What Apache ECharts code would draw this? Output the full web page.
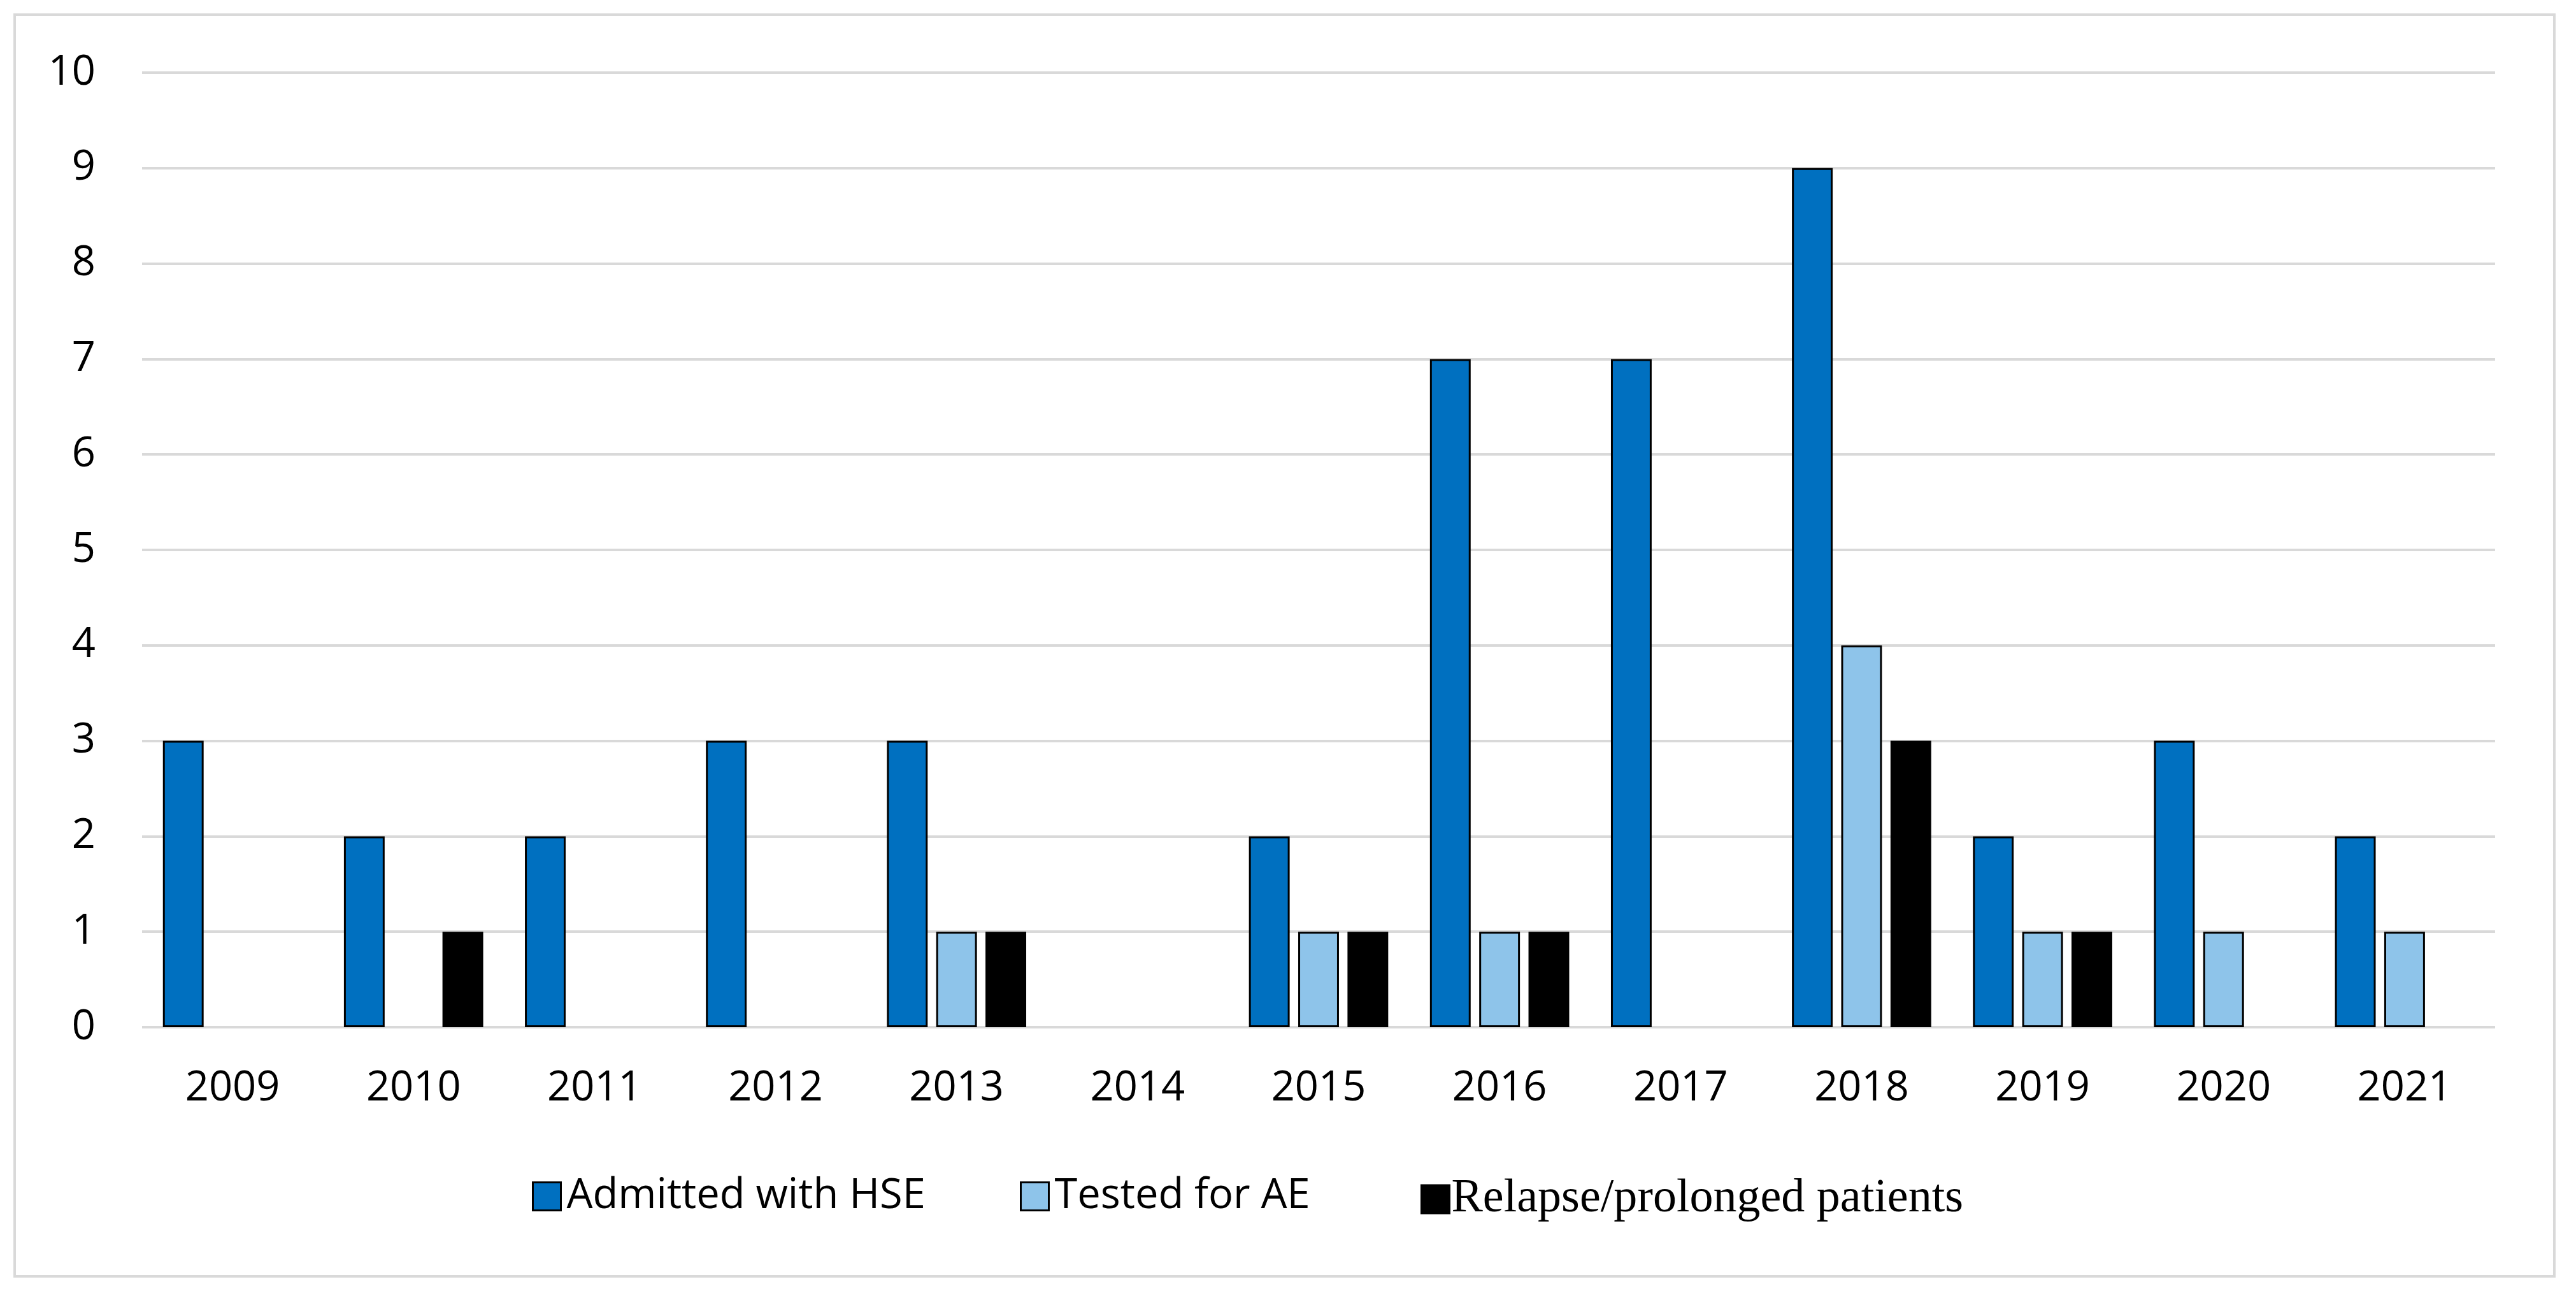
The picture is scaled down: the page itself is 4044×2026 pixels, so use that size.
<!DOCTYPE html>
<html>
<head>
<meta charset="utf-8">
<script src="https://cdn.jsdelivr.net/npm/echarts@6/dist/echarts.min.js"></script>
<style>
html,body{margin:0;padding:0;background:#fff;}
#c{width:4044px;height:2026px;}
</style>
</head>
<body>
<div id="c"></div>
<script>
const years = ['2009','2010','2011','2012','2013','2014','2015','2016','2017','2018','2019','2020','2021'];
const admittedHSE = [3,2,2,3,3,0,2,7,7,9,2,3,2];
const testedAE = [0,0,0,0,1,0,1,1,0,4,1,1,1];
const relapse = [0,1,0,0,1,0,1,1,0,3,1,0,0];
const yTicks = [0,1,2,3,4,5,6,7,8,9,10];
const seriesNames = ['Admitted with HSE','Tested for AE','Relapse/prolonged patients'];
const seriesColors = ['#0070C0','#8EC4EA','#000000'];

const chart = echarts.init(document.getElementById('c'));
const toBar = arr => arr.map(v => v === 0 ? null : v);
const sans = '"Open Sans", "Noto Sans", sans-serif';
const serif = '"Liberation Serif", "DejaVu Serif", serif';

const dataSets = [admittedHSE, testedAE, relapse];
const series = seriesNames.map((n, i) => ({
  name: n,
  type: 'bar',
  data: toBar(dataSets[i]),
  barWidth: '22.5%',
  barGap: '21%',
  itemStyle: {color: seriesColors[i], borderColor: '#000', borderWidth: 3}
}));

const legendLefts = [830, 1596, 2225];
const legendFonts = [sans, sans, serif];
const legendSizes = [65, 65, 74];
const legends = seriesNames.map((n, i) => ({
  data: [n],
  left: legendLefts[i],
  top: 1840,
  orient: 'horizontal',
  icon: 'rect',
  itemWidth: 44,
  itemHeight: 44,
  itemGap: 0,
  selectedMode: false,
  textStyle: {fontFamily: legendFonts[i], fontSize: legendSizes[i], color: '#000', padding: [0,0,0, i === 2 ? -2 : 4]},
  itemStyle: {borderColor: '#000', borderWidth: 3}
}));

chart.setOption({
  backgroundColor: '#fff',
  animation: false,
  graphic: [{
    type: 'rect',
    shape: {x: 23, y: 23, width: 3987, height: 1980},
    style: {fill: 'none', stroke: '#d9d9d9', lineWidth: 4},
    silent: true
  }],
  legend: legends,
  grid: {left: 223, right: 127, top: 114, bottom: 414, containLabel: false},
  xAxis: {
    type: 'category',
    data: years,
    axisLine: {show: false},
    axisTick: {show: false},
    axisLabel: {fontFamily: sans, fontSize: 65, color: '#000', margin: 64}
  },
  yAxis: {
    type: 'value',
    min: yTicks[0],
    max: yTicks[yTicks.length - 1],
    interval: 1,
    axisLine: {show: false},
    axisTick: {show: false},
    axisLabel: {fontFamily: sans, fontSize: 65, color: '#000', margin: 73},
    splitLine: {lineStyle: {color: '#d9d9d9', width: 4}}
  },
  series: series
});
</script>
</body>
</html>
